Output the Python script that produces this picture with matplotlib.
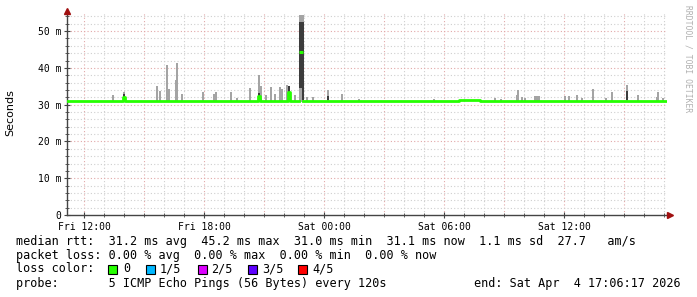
import matplotlib
matplotlib.use('Agg')
import numpy as np
import matplotlib.pyplot as plt
from matplotlib.patches import Rectangle

# time in hours since Fri 00:00, values in ms
t_start, t_end = 11.15, 41.15

# median rtt (flat segments between breakpoints)
med_t = [11.15, 13.95, 14.05, 20.70, 20.80, 22.20, 22.30, 22.75, 22.95, 30.75, 31.80, 41.15]
med_v = [31.0, 32.2, 31.0, 32.4, 31.0, 33.4, 31.0, 44.2, 31.0, 31.4, 31.0, 31.0]

# light smoke: time, top of spike
smoke_t = [13.45, 14.00, 15.65, 15.80, 16.15, 16.25, 16.60, 16.65, 16.90, 17.95,
           18.50, 18.60, 19.35, 19.65, 20.30, 20.75, 20.85, 21.10, 21.35, 21.55,
           21.80, 21.90, 22.15, 22.25, 22.55, 22.80, 22.85, 22.90, 22.95, 23.15,
           23.45, 24.20, 24.90, 25.75, 29.50, 32.55, 32.85, 33.65, 33.70, 33.90,
           34.05, 34.55, 34.65, 34.75, 36.05, 36.25, 36.65, 36.90, 37.45, 38.10,
           38.40, 39.15, 39.70, 40.65, 40.70, 40.95]
smoke_top = [32.6, 33.4, 35.0, 33.7, 40.8, 34.2, 36.6, 41.4, 32.8, 33.4,
             33.0, 33.4, 33.4, 31.8, 34.5, 38.0, 35.0, 32.6, 34.8, 33.0,
             34.8, 34.2, 35.3, 35.0, 32.6, 54.3, 54.3, 54.3, 54.3, 32.0,
             32.0, 34.0, 33.0, 31.5, 31.5, 31.8, 31.6, 32.6, 34.0, 32.0,
             31.8, 32.3, 32.3, 32.3, 32.3, 32.4, 32.6, 31.8, 34.2, 31.7,
             33.4, 35.3, 32.7, 32.2, 33.4, 31.7]

# dark smoke core: time, low, high
dark_t = [14.00, 20.75, 22.25, 22.80, 22.85, 22.90, 22.95, 24.20, 39.15]
dark_lo = [31.6, 31.2, 32.0, 34.5, 34.5, 34.5, 31.2, 31.2, 31.4]
dark_hi = [32.8, 33.2, 35.0, 52.5, 52.5, 52.5, 52.5, 32.4, 33.6]

xtick_pos = [12, 18, 24, 30, 36]
xtick_lab = ['Fri 12:00', 'Fri 18:00', 'Sat 00:00', 'Sat 06:00', 'Sat 12:00']
ytick_pos = [0, 10, 20, 30, 40, 50]
ytick_lab = ['0', '10 m', '20 m', '30 m', '40 m', '50 m']

loss_labels = ['0', '1/5', '2/5', '3/5', '4/5']
loss_colors = ['#26ff00', '#00b8ff', '#dd00ff', '#5e00ff', '#ff0000']

W, H = 697, 297
mono = 'DejaVu Sans Mono'
fig = plt.figure(figsize=(W / 100, H / 100), dpi=100)
fig.patch.set_facecolor('white')
ax = fig.add_axes([67 / W, 82 / H, 600 / W, 203 / H])
ax.set_xlim(t_start, t_end)
ax.set_ylim(0, 55.2)

### grid
for h in np.arange(12, 42, 1):
    c = '#e2a8a8' if h % 3 == 0 else '#cfcfcf'
    ax.axvline(h, color=c, lw=0.8, linestyle=(0, (1, 2)), zorder=0)
for v in np.arange(2, 56, 2):
    c = '#e2a8a8' if v % 10 == 0 else '#cfcfcf'
    ax.axhline(v, color=c, lw=0.8, linestyle=(0, (1, 2)), zorder=0)

### smoke
base = 30.8
ax.bar(smoke_t, np.array(smoke_top) - base, bottom=base, width=0.06,
       color='#a4a4a4', linewidth=0, align='center', zorder=1)
ax.bar(dark_t, np.array(dark_hi) - np.array(dark_lo), bottom=dark_lo, width=0.06,
       color='#3c3c3c', linewidth=0, align='center', zorder=2)

### median: connected steps, but the big spike stands alone (no vertical joins)
green = '#26ff00'
i0 = med_t.index(22.75)
ax.step(med_t[:i0 + 1], med_v[:i0] + [med_v[i0 - 1]], where='post', color=green, lw=2.0, zorder=3)
ax.hlines(med_v[i0], med_t[i0], med_t[i0 + 1], color=green, lw=2.2, zorder=3)
ax.step(med_t[i0 + 1:], med_v[i0 + 1:], where='post', color=green, lw=2.0, zorder=3)

### axes
for s in ['top', 'right']:
    ax.spines[s].set_visible(False)
for s in ['left', 'bottom']:
    ax.spines[s].set_color('#444444')
    ax.spines[s].set_linewidth(1.0)
ax.set_xticks(xtick_pos)
ax.set_xticklabels(xtick_lab, fontsize=7, family=mono)
ax.set_xticks(np.arange(12, 42, 1), minor=True)
ax.set_yticks(ytick_pos)
ax.set_yticklabels(ytick_lab, fontsize=7, family=mono)
ax.set_yticks(np.arange(0, 56, 2), minor=True)
ax.tick_params(which='both', direction='inout', color='#444444', pad=2)
ax.tick_params(which='major', length=4)
ax.tick_params(which='minor', length=3)
ax.tick_params(axis='x', pad=3)
ax.plot([t_start], [55.6], marker='^', ms=4.5, color='#a01010', clip_on=False, zorder=5)
ax.plot([t_end + 0.15], [0], marker='>', ms=4.5, color='#a01010', clip_on=False, zorder=5)

fig.text(10 / W, 1 - 113 / H, 'Seconds', rotation=90, fontsize=8, ha='center', va='center')
fig.text(688 / W, 1 - 5 / H, 'RRDTOOL / TOBI OETIKER', rotation=270, fontsize=5.8,
         family=mono, color='#b0b0b0', ha='center', va='top')

### legend
fs = 8.5
def ftext(x, y, s, **kw):
    fig.text(x / W, 1 - y / H, s, fontsize=fs, family=mono, va='center', **kw)

ftext(16, 241, 'median rtt:  31.2 ms avg  45.2 ms max  31.0 ms min  31.1 ms now  1.1 ms sd  27.7   am/s')
ftext(16, 255, 'packet loss: 0.00 % avg  0.00 % max  0.00 % min  0.00 % now')
ftext(16, 269, 'loss color:')
sq_x = [108, 146, 198, 248, 298]
lab_x = [123, 160, 211, 262, 312]
for sx, lx, lab, col in zip(sq_x, lab_x, loss_labels, loss_colors):
    fig.add_artist(Rectangle((sx / W, 1 - 273.5 / H), 9 / W, 9 / H, transform=fig.transFigure,
                             facecolor=col, edgecolor='black', lw=0.8))
    ftext(lx, 269, lab)
ftext(16, 283, 'probe:       5 ICMP Echo Pings (56 Bytes) every 120s')
ftext(681, 283, 'end: Sat Apr  4 17:06:17 2026', ha='right')

plt.savefig('out.png', dpi=100, facecolor='white')
